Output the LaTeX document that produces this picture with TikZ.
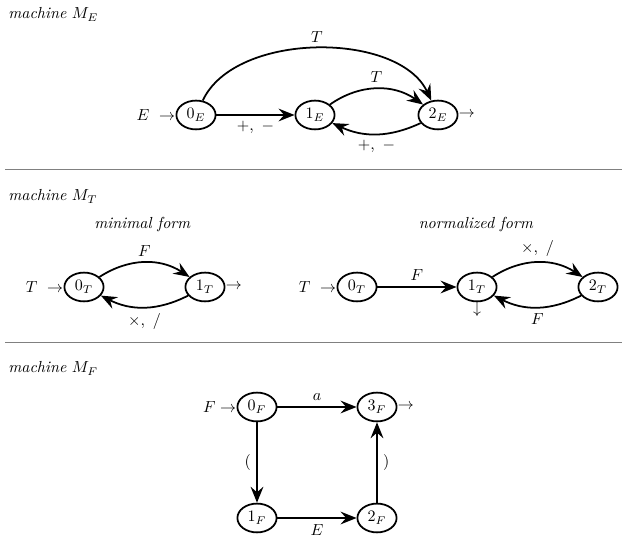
\documentclass[tikz,border=0pt]{standalone}
\usetikzlibrary{arrows.meta,shapes.geometric}
\begin{document}
\begin{tikzpicture}[x=0.625pt,y=0.625pt,
  state/.style={ellipse,draw,line width=1.1pt,minimum width=24.5pt,minimum height=18pt,inner sep=1pt},
  tr/.style={-{Stealth[length=10pt,width=8pt,inset=3.5pt]},line width=1.1pt},
  title/.style={anchor=base west,inner sep=0pt},
  subtitle/.style={anchor=base,inner sep=0pt},
  sepline/.style={draw=gray,line width=0.6pt},
  startmark/.style={anchor=east,inner sep=0pt},
  finmark/.style={anchor=west,inner sep=0pt}
]
\useasboundingbox (0,0) rectangle (629,540);

% ---------- machine M_E ----------
\node[title] (tE) at (8,521) {\textit{machine} $M_E$};
\node[state] (e0) at (196,425) {$0_E$};
\node[state] (e1) at (315,425) {$1_E$};
\node[state] (e2) at (438,425) {$2_E$};
\node[startmark] (se) at (e0.west) {$E\ \rightarrow$};
\node[finmark] (fe) at (e2.east) {$\rightarrow$};
\draw[tr] (e0) -- node[below] {$+,\ -$} (e1);
\draw[tr] (e1) to[bend left=35] node[above] {$T$} (e2);
\draw[tr] (e2) to[bend left=25] node[below] {$+,\ -$} (e1);
\draw[tr] (e0) to[out=65,in=115,looseness=0.86] node[above] {$T$} (e2);

\coordinate (s1a) at (5,371);
\coordinate (s1b) at (622,371);
\draw[sepline] (s1a) -- (s1b);

% ---------- machine M_T ----------
\node[title] (tT) at (8,339) {\textit{machine} $M_T$};
\node[subtitle] (minf) at (142.5,311) {\textit{minimal form}};
\node[subtitle] (norf) at (476,311) {\textit{normalized form}};

\node[state] (a0) at (84,253) {$0_T$};
\node[state] (a1) at (205,253) {$1_T$};
\node[startmark] (sa) at (a0.west) {$T\ \rightarrow$};
\node[finmark] (fa) at (a1.east) {$\rightarrow$};
\draw[tr] (a0) to[bend left=33] node[above] {$F$} (a1);
\draw[tr] (a1) to[bend left=27] node[below] {$\times,\ /$} (a0);

\node[state] (b0) at (357,253) {$0_T$};
\node[state] (b1) at (477,253) {$1_T$};
\node[state] (b2) at (598,253) {$2_T$};
\node[startmark] (sb) at (b0.west) {$T\ \rightarrow$};
\node[anchor=north,inner sep=0pt] (fb) at (b1.south) {$\downarrow$};
\draw[tr] (b0) -- node[above] {$F$} (b1);
\draw[tr] (b1) to[bend left=33] node[above] {$\times,\ /$} (b2);
\draw[tr] (b2) to[bend left=27] node[below] {$F$} (b1);

\coordinate (s2a) at (5,198);
\coordinate (s2b) at (622,198);
\draw[sepline] (s2a) -- (s2b);

% ---------- machine M_F ----------
\node[title] (tF) at (8,167) {\textit{machine} $M_F$};
\node[state] (f0) at (257,133) {$0_F$};
\node[state] (f3) at (377,133) {$3_F$};
\node[state] (f1) at (257,22) {$1_F$};
\node[state] (f2) at (377,22) {$2_F$};
\node[startmark] (sf) at (f0.west) {$F\rightarrow$};
\node[finmark] (ff) at (f3.east) {$\rightarrow$};
\draw[tr] (f0) -- node[above] {$a$} (f3);
\draw[tr] (f0) -- node[left] {(} (f1);
\draw[tr] (f1) -- node[below] {$E$} (f2);
\draw[tr] (f2) -- node[right] {)} (f3);
\end{tikzpicture}
\end{document}
